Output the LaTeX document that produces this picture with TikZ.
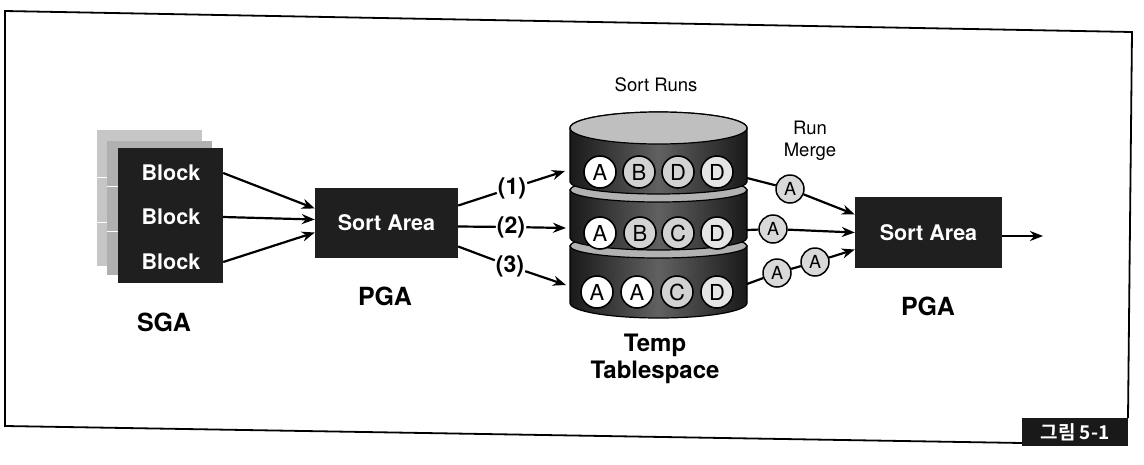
\documentclass[tikz,border=0pt]{standalone}
\usepackage{fontspec}
\setmainfont{TeX Gyre Heros}
\newfontfamily\kr{Noto Sans CJK KR Bold}
\usetikzlibrary{arrows.meta}
\begin{document}
\begin{tikzpicture}[x=1pt,y=-1pt,
  ln/.style={line width=2.2pt},
  arr/.style={line width=2.2pt,-{Stealth[length=13pt,width=10pt]}},
  blackbox/.style={fill=black!88,text=white,inner sep=0pt,font=\fontsize{21.5}{23}\selectfont\bfseries},
  blk/.style={text=white,inner sep=0pt,font=\fontsize{21.5}{23}\selectfont\bfseries},
  biglbl/.style={inner sep=0pt,font=\fontsize{25}{27}\selectfont\bfseries},
  numlbl/.style={inner sep=1pt,font=\fontsize{23}{25}\selectfont\bfseries},
  small/.style={inner sep=0pt,font=\fontsize{18.5}{22}\selectfont,align=center},
  circ/.style={circle,draw=black,line width=1.6pt,minimum size=32pt,inner sep=0pt,font=\fontsize{22}{22}\selectfont},
  mcirc/.style={circle,draw=black,line width=1.5pt,minimum size=28pt,inner sep=0pt,fill=gray!30,font=\fontsize{18}{18}\selectfont},
  band/.style={left color=black!90,right color=black!90,middle color=black!62,draw=black,line width=1.2pt},
  seam/.style={fill=gray!60,draw=black,line width=1.2pt},
]
\useasboundingbox (0,0) rectangle (1144,464);
% frame
\draw[line width=1.8pt] (1022,443) -- (5,426) -- (5,11) -- (1132,32) -- (1128,418);
\node[fill=black!90,text=white,minimum width=106pt,minimum height=28pt,inner sep=0pt,font=\kr\fontsize{19}{19}\selectfont] (fig) at (1075,432) {그림 5-1};

% SGA stack
\fill[gray!45] (97,130) rectangle (202,266);
\fill[gray!62] (107,141) rectangle (212,275);
\draw[white,line width=1pt] (97,177) -- (107,177) (97,222) -- (107,222);
\draw[white,line width=1pt] (107,186) -- (118,186) (107,231) -- (118,231);
\node[fill=black!88,minimum width=105pt,minimum height=135pt,inner sep=0pt] (front) at (170.5,215.5) {};
\node[blk] (b1) at (171,173) {Block};
\node[blk] (b2) at (171,217) {Block};
\node[blk] (b3) at (171,262) {Block};
\node[biglbl] (sga) at (164,322) {SGA};

% PGA 1
\node[blackbox,minimum width=143pt,minimum height=70pt] (sa1) at (386.5,222.5) {Sort Area};
\node[biglbl] (pga1) at (385,296) {PGA};
\draw[arr] (front.east |- b1) -- ([yshift=14pt]sa1.west);
\draw[arr] (front.east |- b2) -- ([yshift=3pt]sa1.west);
\draw[arr] (front.east |- b3) -- ([yshift=-10pt]sa1.west);

% cylinder
\path[band] (570,246) -- (570,303) arc[start angle=180,end angle=360,x radius=88.5pt,y radius=15pt] -- (747,246) arc[start angle=0,end angle=180,x radius=88.5pt,y radius=12pt] -- cycle;
\path[seam] (658.5,246) ellipse[x radius=88.5pt,y radius=12pt];
\path[band] (570,190) -- (570,238) arc[start angle=180,end angle=360,x radius=88.5pt,y radius=12pt] -- (747,190) arc[start angle=0,end angle=180,x radius=88.5pt,y radius=12pt] -- cycle;
\path[seam] (658.5,190) ellipse[x radius=88.5pt,y radius=12pt];
\path[band] (570,128) -- (570,182) arc[start angle=180,end angle=360,x radius=88.5pt,y radius=12pt] -- (747,128) arc[start angle=0,end angle=180,x radius=88.5pt,y radius=16pt] -- cycle;
\path[fill=gray!50,draw=black,line width=1.2pt] (658.5,128) ellipse[x radius=88.5pt,y radius=16pt];

\node[circ,fill=white] (r1a) at (600,172) {A};
\node[circ,fill=gray!35] (r1b) at (639,172) {B};
\node[circ,fill=gray!35] (r1c) at (678,172) {D};
\node[circ,fill=gray!20] (r1d) at (717,172) {D};
\node[circ,fill=white] (r2a) at (600,233) {A};
\node[circ,fill=gray!35] (r2b) at (640,233) {B};
\node[circ,fill=gray!35] (r2c) at (678,233) {C};
\node[circ,fill=gray!20] (r2d) at (717,233) {D};
\node[circ,fill=white] (r3a) at (597,292) {A};
\node[circ,fill=white] (r3b) at (637,292) {A};
\node[circ,fill=gray!35] (r3c) at (677,292) {C};
\node[circ,fill=gray!20] (r3d) at (717,292) {D};

\node[small] (runs) at (656,85) {Sort Runs};
\node[inner sep=0pt,align=center,font=\fontsize{24}{27}\selectfont\bfseries] (temp) at (655,359) {Temp\\Tablespace};

% arrows into cylinder
\node[numlbl] (l1) at (512,188) {(1)};
\node[numlbl] (l2) at (511,227) {(2)};
\node[numlbl] (l3) at (510,266) {(3)};
\coordinate (c1) at (565,171);
\coordinate (c2) at (566,228);
\coordinate (c3) at (566,285);
\draw[ln] ([yshift=17pt]sa1.east) -- (l1);
\draw[ln] ([yshift=-4pt]sa1.east) -- (l2);
\draw[ln] ([yshift=-24pt]sa1.east) -- (l3);
\draw[arr] (l1) -- (c1);
\draw[arr] (l2) -- (c2);
\draw[arr] (l3) -- (c3);

% run merge
\node[small] (rm) at (810,141) {Run\\Merge};
\node[blackbox,minimum width=147pt,minimum height=71pt] (sa2) at (928.5,232.5) {Sort Area};
\node[biglbl] (pga2) at (928,306) {PGA};
\coordinate (o1) at (747,178);
\coordinate (o2) at (747,230);
\coordinate (o3) at (747,284);
\node[mcirc] (m1) at (790,189) {A};
\node[mcirc] (m2) at (773,229) {A};
\node[mcirc] (m3) at (777,273) {A};
\node[mcirc] (m4) at (815,262) {A};
\draw[ln] (o1) -- (m1);
\draw[ln] (o2) -- (m2);
\draw[ln] (o3) -- (m3);
\draw[ln] (m3) -- (m4);
\draw[arr] (m1) -- ([yshift=18pt]sa2.west);
\draw[arr] (m2) -- ([yshift=0pt]sa2.west);
\draw[arr] (m4) -- ([yshift=-17pt]sa2.west);
\coordinate (out) at (1043,236);
\draw[arr] (sa2.east |- out) -- (out);
\end{tikzpicture}
\end{document}
